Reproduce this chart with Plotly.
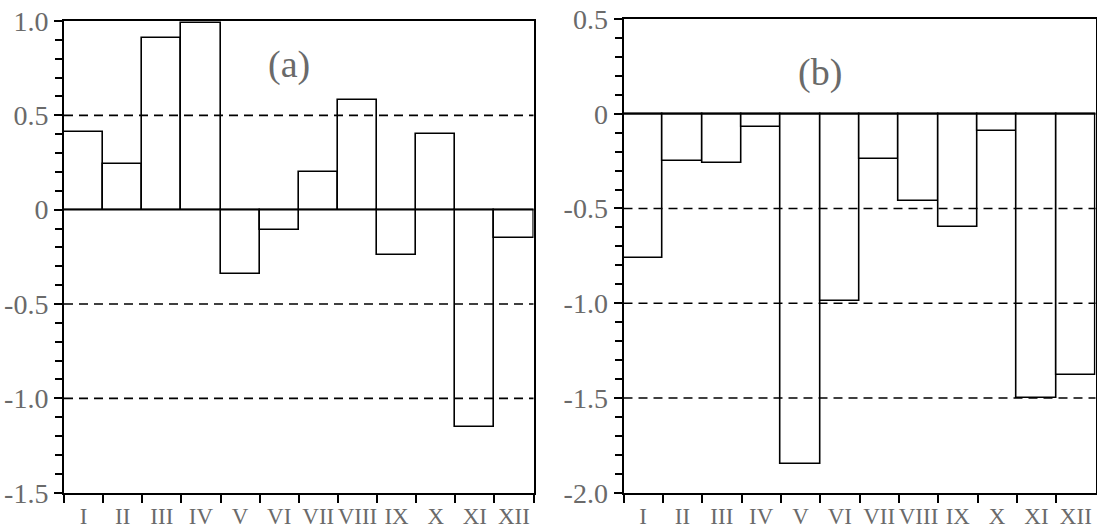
import plotly.graph_objects as go
from plotly.subplots import make_subplots

# Monthly values for the two panels
months = ["I", "II", "III", "IV", "V", "VI", "VII", "VIII", "IX", "X", "XI", "XII"]
values_a = [0.41, 0.24, 0.91, 0.99, -0.34, -0.11, 0.20, 0.58, -0.24, 0.40, -1.15, -0.15]
values_b = [-0.76, -0.25, -0.26, -0.07, -1.85, -0.99, -0.24, -0.46, -0.60, -0.09, -1.50, -1.38]

# Axis ticks and reference lines per panel
ticks_a = [1.0, 0.5, 0, -0.5, -1.0, -1.5]
ticklabels_a = ["1.0", "0.5", "0", "-0.5", "-1.0", "-1.5"]
dashed_a = [0.5, -0.5, -1.0]
range_a = [-1.5, 1.0]

ticks_b = [0.5, 0, -0.5, -1.0, -1.5, -2.0]
ticklabels_b = ["0.5", "0", "-0.5", "-1.0", "-1.5", "-2.0"]
dashed_b = [-0.5, -1.0, -1.5]
range_b = [-2.0, 0.5]

W, H = 1097, 531
SERIF = "Liberation Serif"
GREY = "#6a6a6a"

fig = make_subplots(rows=1, cols=2)

for col, vals in ((1, values_a), (2, values_b)):
    fig.add_trace(
        go.Bar(
            x=months, y=vals, width=1.0,
            marker=dict(color="white", line=dict(color="black", width=1.6)),
            showlegend=False, hoverinfo="x+y",
        ),
        row=1, col=col,
    )

# Panel positions (pixels)
left_a, right_a, top_a = 64, 533.5, 21
left_b, right_b, top_b = 623.5, 1095.5, 19
bottom = 492.7

fig.update_layout(
    width=W, height=H,
    margin=dict(l=0, r=0, t=0, b=0, autoexpand=False),
    paper_bgcolor="white", plot_bgcolor="white",
    bargap=0,
    xaxis=dict(domain=[left_a / W, right_a / W]),
    xaxis2=dict(domain=[left_b / W, right_b / W]),
    yaxis=dict(domain=[1 - bottom / H, 1 - top_a / H]),
    yaxis2=dict(domain=[1 - bottom / H, 1 - top_b / H]),
)

for col in (1, 2):
    fig.update_xaxes(
        type="category", range=[-0.5, 11.5], tickson="boundaries",
        ticks="outside", ticklen=8, tickwidth=1.6, tickcolor="black",
        tickangle=0, automargin=False, ticklabelstandoff=2,
        showline=True, linecolor="black", linewidth=2,
        mirror=True, showgrid=False, zeroline=False,
        tickfont=dict(family=SERIF, size=23, color=GREY),
        row=1, col=col,
    )

for col, tv, tt, rg in ((1, ticks_a, ticklabels_a, range_a), (2, ticks_b, ticklabels_b, range_b)):
    fig.update_yaxes(
        range=rg, tickvals=tv, ticktext=tt,
        ticks="outside", ticklen=8, tickwidth=1.6, tickcolor="black",
        minor=dict(dtick=0.1, tick0=0, ticks="outside", ticklen=7, tickwidth=1.6,
                   tickcolor="black", showgrid=False),
        showline=True, linecolor="black", linewidth=2,
        mirror=True, showgrid=False, zeroline=False, automargin=False,
        tickfont=dict(family=SERIF, size=28, color=GREY),
        ticklabelstandoff=0,
        row=1, col=col,
    )

# Dashed reference lines and solid zero line
for xr, yr, levels in (("x domain", "y", dashed_a), ("x2 domain", "y2", dashed_b)):
    for lv in levels:
        fig.add_shape(type="line", xref=xr, yref=yr, x0=0, x1=1, y0=lv, y1=lv,
                      line=dict(color="black", width=1.6, dash="9px,6px"), layer="above")
    fig.add_shape(type="line", xref=xr, yref=yr, x0=0, x1=1, y0=0, y1=0,
                  line=dict(color="black", width=1.8), layer="above")

# Panel labels
fig.add_annotation(text="(a)", xref="x domain", yref="y domain", x=0.479, y=0.907,
                   xanchor="center", yanchor="middle",
                   showarrow=False, font=dict(family=SERIF, size=38, color=GREY))
fig.add_annotation(text="(b)", xref="x2 domain", yref="y2 domain", x=0.416, y=0.888,
                   xanchor="center", yanchor="middle",
                   showarrow=False, font=dict(family=SERIF, size=38, color=GREY))

fig.write_html("out.html")
